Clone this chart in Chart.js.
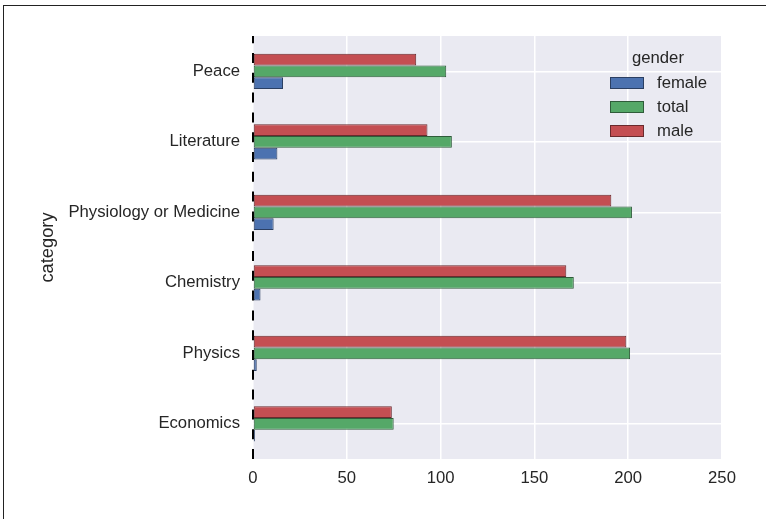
<!DOCTYPE html>
<html lang="en">
<head>
    <meta charset="UTF-8">
    <title>Nobel prizes by category and gender</title>
    <script src="https://cdn.jsdelivr.net/npm/chart.js@4.4.1/dist/chart.umd.min.js"></script>
    <style>
        body {
            margin: 0;
            background: #fff;
            font-family: "Liberation Sans", Arial, sans-serif;
        }
        .wrap {
            position: relative;
            width: 766px;
            height: 519px;
            overflow: hidden;
        }
        .frame {
            position: absolute;
            left: 3px;
            top: 5px;
            width: 800px;
            height: 600px;
            border-top: 1.5px solid #222;
            border-left: 1.5px solid #222;
        }
        canvas {
            position: absolute;
            left: 0;
            top: 0;
        }
        .legend {
            position: absolute;
            left: 610px;
            top: 47px;
            color: #262626;
            font-size: 16.7px;
        }
        .legend .title {
            margin-left: 22px;
            height: 24px;
            line-height: 22px;
        }
        .legend .row {
            height: 24px;
            display: flex;
            align-items: center;
        }
        .legend .sw {
            width: 34px;
            height: 12px;
            margin-right: 13px;
            border: 1px solid #333;
            box-sizing: border-box;
        }
    </style>
</head>
<body>
    <div class="wrap">
        <div class="frame"></div>
        <canvas id="chart" width="766" height="519"></canvas>
        <div class="legend" id="legend"></div>
    </div>

    <script>
        const categories = ['Peace', 'Literature', 'Physiology or Medicine', 'Chemistry', 'Physics', 'Economics'];
        const female = [16, 13, 11, 4, 2, 1];
        const total = [103, 106, 202, 171, 201, 75];
        const male = [87, 93, 191, 167, 199, 74];
        const xTicks = [0, 50, 100, 150, 200, 250];

        const textColor = '#262626';
        const font = { family: '"Liberation Sans", Arial, sans-serif', size: 16.7 };

        // legend order as in the picture: female, total, male
        const series = [
            { label: 'female', data: female, color: '#4C72B0', edge: '#2b3f62' },
            { label: 'total', data: total, color: '#55A868', edge: '#2f5c3a' },
            { label: 'male', data: male, color: '#C44E52', edge: '#6a2a2d' }
        ];

        const plotBg = {
            id: 'plotBg',
            beforeDraw(chart) {
                const a = chart.chartArea;
                const ctx = chart.ctx;
                ctx.save();
                ctx.fillStyle = '#EAEAF2';
                ctx.fillRect(a.left, a.top, a.right - a.left, a.bottom - a.top);
                ctx.restore();
            }
        };

        const zeroLine = {
            id: 'zeroLine',
            beforeDatasetsDraw(chart) {
                const a = chart.chartArea;
                const ctx = chart.ctx;
                const x = chart.scales.x.getPixelForValue(0);
                ctx.save();
                ctx.strokeStyle = '#000';
                ctx.lineWidth = 2;
                ctx.setLineDash([10, 9.8]);
                ctx.beginPath();
                ctx.moveTo(x, a.bottom);
                ctx.lineTo(x, a.top);
                ctx.stroke();
                ctx.restore();
            }
        };

        // top to bottom inside each group: male, total, female
        const datasets = series.slice().reverse().map(s => ({
            label: s.label,
            data: s.data,
            backgroundColor: s.color,
            borderColor: s.edge,
            borderWidth: 1,
            borderSkipped: false,
            categoryPercentage: 0.5,
            barPercentage: 1
        }));

        new Chart(document.getElementById('chart'), {
            type: 'bar',
            data: { labels: categories, datasets: datasets },
            options: {
                indexAxis: 'y',
                responsive: false,
                animation: false,
                layout: { padding: { left: 37, top: 36, right: 44, bottom: 0 } },
                plugins: {
                    legend: { display: false },
                    tooltip: { enabled: false }
                },
                scales: {
                    x: {
                        min: 0,
                        max: 250,
                        afterFit(scale) { scale.height = 60; },
                        afterBuildTicks(scale) { scale.ticks = xTicks.map(v => ({ value: v })); },
                        ticks: { color: textColor, font: font, padding: 9 },
                        grid: { color: '#fff', lineWidth: 1.5, drawTicks: false },
                        border: { display: false }
                    },
                    y: {
                        afterFit(scale) { scale.width = 216; },
                        ticks: { color: textColor, font: font, padding: 13 },
                        grid: { color: '#fff', lineWidth: 1.5, drawTicks: false, offset: false },
                        border: { display: false },
                        title: {
                            display: true,
                            text: 'category',
                            color: textColor,
                            font: { family: font.family, size: 18.3 },
                            padding: { top: 0, bottom: 0 }
                        }
                    }
                }
            },
            plugins: [plotBg, zeroLine]
        });

        const legend = document.getElementById('legend');
        legend.innerHTML = '<div class="title">gender</div>' + series.map(s =>
            '<div class="row"><div class="sw" style="background:' + s.color + ';border-color:' + s.edge + '"></div>' + s.label + '</div>'
        ).join('');
    </script>
</body>
</html>
